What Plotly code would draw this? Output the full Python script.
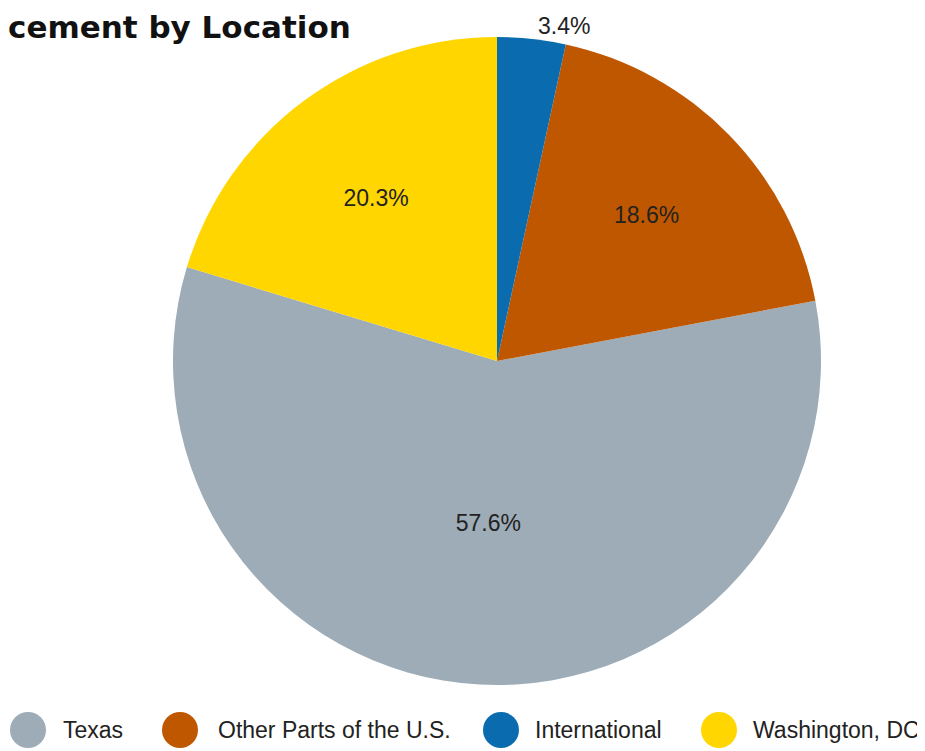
import plotly.graph_objects as go

# Data
labels = ["Texas", "Other Parts of the U.S.", "International", "Washington, DC"]
values = [57.6, 18.6, 3.4, 20.3]
colors = ["#9DACB6", "#BF5700", "#0A6CAF", "#FFD600"]
title_text = "cement by Location"

W, H = 925, 751
OFF = 8  # page body margin offset

def fx(px):
    return (px - OFF) / W

def fy(py):
    return (H - (py - OFF)) / H

text_labels = [f"{v}%" for v in values]
text_pos = ["inside" if v >= 5 else "outside" for v in values]
# counterclockwise: first slice (Texas) starts where Other+International end
rotation = (values[1] + values[2]) / sum(values) * 360

FONT = "Liberation Sans, Arial"
fig = go.Figure()
fig.add_trace(go.Pie(
    labels=labels,
    values=values,
    text=text_labels,
    textinfo="text",
    textposition=text_pos,
    insidetextorientation="horizontal",
    sort=False,
    direction="counterclockwise",
    rotation=rotation,
    automargin=False,
    marker=dict(colors=colors, line=dict(width=0)),
    textfont=dict(family=FONT, size=23, color="#222222"),
    insidetextfont=dict(family=FONT, size=23, color="#222222"),
    outsidetextfont=dict(family=FONT, size=23, color="#222222"),
    domain=dict(x=[(2 * (497 - OFF) - W) / W, 1.0],
                y=[fy(685), fy(37)]),
    showlegend=False,
    hoverinfo="label+percent",
))

# Custom legend with large circles
legend_circle_x = [28, 180, 501, 719]
legend_text_x = [61, 216, 533, 751]
legend_y = 730
r = 18
shapes = []
annotations = []
for lab, col, cx, tx in zip(labels, colors, legend_circle_x, legend_text_x):
    shapes.append(dict(
        type="circle", xref="paper", yref="paper",
        x0=fx(cx - r), x1=fx(cx + r),
        y0=fy(legend_y + r), y1=fy(legend_y - r),
        fillcolor=col, line=dict(width=0),
    ))
    annotations.append(dict(
        text=lab, xref="paper", yref="paper",
        x=fx(tx), y=fy(legend_y),
        xanchor="left", yanchor="middle", showarrow=False,
        font=dict(family=FONT, size=23, color="#222222"),
    ))

fig.update_layout(
    width=W, height=H,
    margin=dict(l=0, r=0, t=0, b=0, autoexpand=False),
    paper_bgcolor="white",
    plot_bgcolor="white",
    title=dict(
        text=f"<b>{title_text}</b>",
        x=0, xanchor="left", xref="container",
        y=fy(27), yanchor="middle", yref="container",
        font=dict(family="DejaVu Sans", size=31, color="#111111"),
    ),
    shapes=shapes,
    annotations=annotations,
)

fig.write_html("out.html")
